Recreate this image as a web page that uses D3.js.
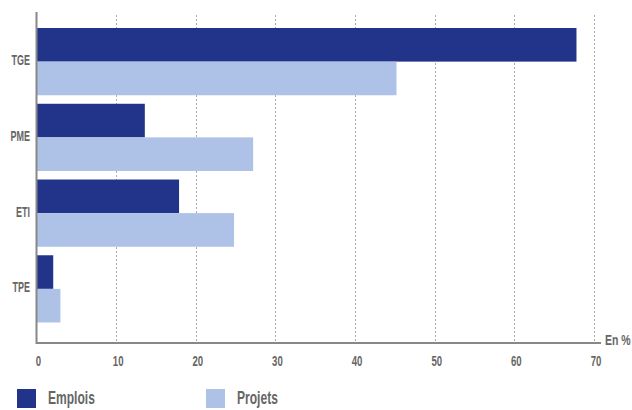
<!DOCTYPE html>
<meta charset="utf-8">
<style>
body { margin: 0; background: #fff; }
text {
  font-family: "Liberation Sans", Arial, sans-serif;
  font-weight: bold;
  fill: #666;
}
.grid line { stroke: #aaa; stroke-width: 1px; stroke-dasharray: 2,2; }
</style>
<body>
<svg width="632" height="410"></svg>
<script src="https://d3js.org/d3.v7.min.js"></script>
<script>

var categories = ["TGE", "PME", "ETI", "TPE"];
var series = ["Emplois", "Projets"];
var emplois = [67.8, 13.6, 17.9, 2.1];
var projets = [45.2, 27.2, 24.8, 3.0];
var ticks = [0, 10, 20, 30, 40, 50, 60, 70];
var colors = ["#22348a", "#adc2e6"];

var svg = d3.select("svg");

// the original font is a condensed one, so squeeze the text horizontally
function at(px, py, k) {
  return "translate(" + px + "," + py + ") scale(" + (k || 0.65) + ",1)";
}

var x = d3.scaleLinear().domain([0, 70]).range([36.5, 594]);
var y = d3.scaleBand().domain(categories).range([23.75, 326.75])
    .paddingInner(0.1126).paddingOuter(0.0563);
var ySub = d3.scaleBand().domain(series).range([0, y.bandwidth()]);

// dotted gridlines
svg.append("g").attr("class", "grid")
  .selectAll("line")
  .data(ticks.slice(1))
  .enter().append("line")
    .attr("x1", d => Math.round(x(d)) + 0.5)
    .attr("x2", d => Math.round(x(d)) + 0.5)
    .attr("y1", 15)
    .attr("y2", 343);

var rows = categories.map(function(c, i) {
  return {cat: c, values: [emplois[i], projets[i]]};
});

var groups = svg.selectAll("g.row")
  .data(rows)
  .enter().append("g")
    .attr("class", "row")
    .attr("transform", d => "translate(0," + y(d.cat) + ")");

groups.selectAll("rect")
  .data(d => d.values.map((v, j) => ({key: series[j], value: v, j: j})))
  .enter().append("rect")
    .attr("x", x(0))
    .attr("y", d => ySub(d.key))
    .attr("width", d => x(d.value) - x(0))
    .attr("height", ySub.bandwidth())
    .attr("fill", d => colors[d.j]);

// axes lines
svg.append("line")
  .attr("x1", 36.5).attr("x2", 36.5).attr("y1", 12).attr("y2", 344)
  .attr("stroke", "#888").attr("stroke-width", 2);
svg.append("line")
  .attr("x1", 36).attr("x2", 601).attr("y1", 343).attr("y2", 343)
  .attr("stroke", "#888").attr("stroke-width", 2);

// category labels
svg.selectAll("text.cat")
  .data(categories)
  .enter().append("text")
    .attr("class", "cat")
    .attr("transform", d => at(30, y(d) + y.bandwidth() / 2 + 3.5, 0.58))
    .attr("text-anchor", "end")
    .style("font-size", "15.5px")
    .text(d => d);

// tick labels
svg.selectAll("text.tick")
  .data(ticks)
  .enter().append("text")
    .attr("class", "tick")
    .attr("transform", d => at(x(d) + 2, 366, 0.64))
    .attr("text-anchor", "middle")
    .style("font-size", "15px")
    .text(d => d);

svg.append("text")
  .attr("transform", at(605, 345, 0.7))
  .style("font-size", "15px")
  .text("En %");

// legend
var legend = svg.selectAll("g.legend")
  .data(series)
  .enter().append("g")
    .attr("class", "legend")
    .attr("transform", (d, i) => "translate(" + (17 + i * 189) + ",389)");

legend.append("rect")
  .attr("width", 19).attr("height", 19)
  .attr("fill", (d, i) => colors[i]);

legend.append("text")
  .attr("transform", at(31, 15, 0.67))
  .style("font-size", "18px")
  .text(d => d);

</script>
